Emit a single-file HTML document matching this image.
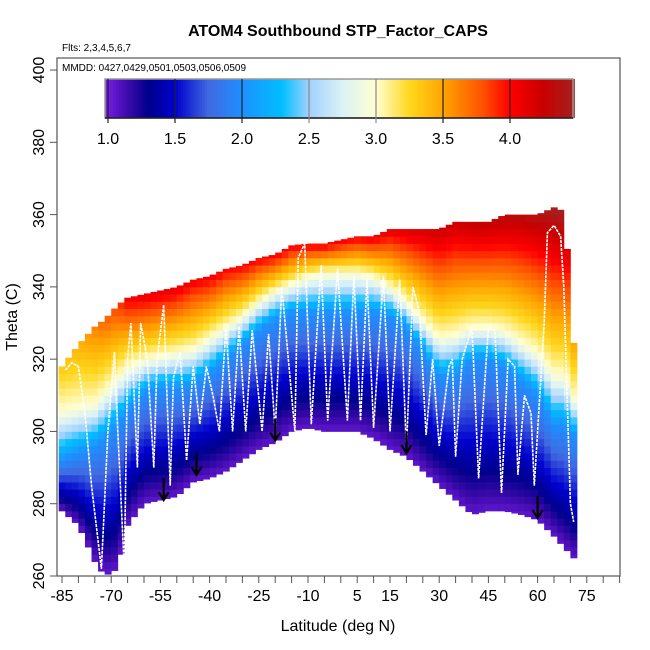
<!DOCTYPE html>
<html><head><meta charset="utf-8">
<style>
body{margin:0;background:#fff;}
svg{display:block;font-family:"Liberation Sans",sans-serif;}
</style></head>
<body>
<svg id="chart" width="650" height="650" viewBox="0 0 650 650">
<text x="338" y="36" text-anchor="middle" font-size="16" font-weight="bold">ATOM4 Southbound STP_Factor_CAPS</text>
<text x="62" y="51" font-size="10">Flts: 2,3,4,5,6,7</text>
<g id="heat"></g>
<g id="profiles"></g>
<g id="arrows"></g>
<rect x="57" y="58" width="563" height="518" fill="none" stroke="#555" stroke-width="1.2"/>
<text x="62" y="71" font-size="10">MMDD: 0427,0429,0501,0503,0506,0509</text>
<g id="cbar"></g>
<g id="axes"></g>
<text x="338" y="631" text-anchor="middle" font-size="16">Latitude (deg N)</text>
<text transform="translate(17,317) rotate(-90)" text-anchor="middle" font-size="16">Theta (C)</text>
</svg>
<script>
// ---- data ----
const lats =   [-86,-85,-80,-75,-72,-68,-65,-60,-55,-50,-45,-40,-35,-30,-25,-20,-15,-10,-5,0,5,10,15,20,25,30,35,40,45,50,55,60,65,68,70,72];
const tops =   [318,318,324,329,331,335,337,338,339,340,342,343,345,346,348,349,351.5,352,352,353,354,354,356,356,356,356,358,358,358,360,360,360,362,361,340,309];
const bottoms= [278,278,274,264,260,262,274,280,281,282,286,287,289,292,295,297,300,301,300,300,300,298,295,293,289,285,281,277,278,278,277,275.5,271,268,266,264];
const t2s =    [292,292,294,296,298,302,306,311,312,312,313,316,320,324,328,331,333,333,333,333,333,333,332,329,322,315,316,320,320,318,314,310,302,302,300,298];
const t3s =    [306,306,307,308,311,315,318,320,321,322,323,326,329,332,336,339,341,343,344,344,344,343,340,336,331,326,327,329,329,328,325,322,316,316,312,307];
const topVals =[3.3,3.3,3.4,3.6,3.7,3.8,4.0,4.05,4.05,4.05,4.0,4.0,3.95,3.95,3.95,3.95,3.95,3.95,3.95,3.95,3.95,4.0,4.05,4.1,4.15,4.2,4.2,4.25,4.25,4.3,4.3,4.35,4.45,4.45,3.8,3.1];
const cbarTicks = [1.0,1.5,2.0,2.5,3.0,3.5,4.0];
const yTicks = [260,280,300,320,340,360,380,400];
const xTickLabels = [-85,-70,-55,-40,-25,-10,5,15,30,45,60,75];
const profLat = [-84,-82,-80,-78,-76,-73,-71,-69,-68,-66,-65,-64,-62,-61,-59,-57,-56,-54,-52,-51,-49,-47,-45,-43,-41,-39,-37,-35,-33,-31,-29,-27,-24,-22,-20,-18,-14,-13,-11,-9,-6,-4,-1,2,4,6,8,10,13,15,18,20,22,24,26,28,30,33,34,35,37,40,42,45,47,49,51,53,54,56,58,59,62,63,65,67,68,70,71];
const profTh  = [317,319,318,305,285,262,300,322,300,262,320,330,290,330,320,290,320,335,285,315,322,292,318,302,318,310,300,329,300,329,300,328,300,327,300,340,300,348,352,302,346,303,345,303,343,303,342,301,343,300,342,295,340,333,299,320,296,318,320,293,320,329,287,329,328,283,320,318,288,310,305,285,330,355,357,354,340,280,275];
const arrowLat = [-54,-44,-20,20,60];
const arrowTip = [281,288,297.5,294,276];
// ---- scales ----
const X = v => 62 + (v + 85) * 3.28;
const Y = v => 576 - (v - 260) * 3.614;
const CB = v => 108 + (v - 1) * 134;
const NS = "http://www.w3.org/2000/svg";
const stops = [[0.98,[122,31,232]],[1.15,[60,10,170]],[1.3,[0,0,140]],[1.5,[0,0,205]],[1.75,[65,105,225]],[2.0,[30,144,255]],[2.3,[0,191,255]],[2.5,[160,210,255]],[2.75,[220,242,245]],[3.0,[255,255,210]],[3.25,[255,215,30]],[3.5,[255,165,0]],[3.8,[255,80,0]],[4.0,[255,0,0]],[4.25,[200,0,0]],[4.47,[165,32,32]]];
function col(v){
  v=Math.max(0.98,Math.min(4.47,v));
  for(let i=1;i<stops.length;i++){if(v<=stops[i][0]){const a=stops[i-1],b=stops[i],t=(v-a[0])/(b[0]-a[0]);
    return "rgb("+a[1].map((c,k)=>Math.round(c+(b[1][k]-c)*t)).join(",")+")";}}
  return "rgb(165,32,32)";
}
function el(tag,attrs,parent){const e=document.createElementNS(NS,tag);for(const k in attrs)e.setAttribute(k,attrs[k]);parent.appendChild(e);return e;}
function lerpArr(arr,lat){for(let i=1;i<lats.length;i++){if(lat<=lats[i]){const t=(lat-lats[i-1])/(lats[i]-lats[i-1]);return arr[i-1]+(arr[i]-arr[i-1])*t;}}return arr[arr.length-1];}
// heatmap
const heat=document.getElementById('heat');
for(let lat=lats[0];lat<lats[lats.length-1];lat+=2){
  const c=lat+1, top=lerpArr(tops,c), bot=lerpArr(bottoms,c), t2=lerpArr(t2s,c), t3=lerpArr(t3s,c), tv=lerpArr(topVals,c);
  for(let th=Math.floor(bot/2)*2; th<top; th+=2){
    const lo=Math.max(th,bot), hi=Math.min(th+2,top), m=(lo+hi)/2;
    let v;
    if(m<t2) v=1.05+(m-bot)/Math.max(1,t2-bot)*0.95;
    else if(m<t3) v=2+(m-t2)/(t3-t2);
    else v=3+(m-t3)/Math.max(2,top-1-t3)*(tv-3);
    const r=el('rect',{x:X(lat).toFixed(2),y:Y(hi).toFixed(2),width:(X(lat+2)-X(lat)+0.4).toFixed(2),height:(Y(lo)-Y(hi)+0.4).toFixed(2),fill:col(v)},heat);
    
    
  }
}
// profiles
const prof=document.getElementById('profiles');
const pl=el('polyline',{points:profLat.map((l,i)=>X(l).toFixed(1)+","+Y(profTh[i]).toFixed(1)).join(" "),fill:"none",stroke:"#fff","stroke-width":1.6,"stroke-dasharray":"3 1"},prof);


// arrows
const ar=document.getElementById('arrows');
arrowLat.forEach((l,i)=>{
  const x=X(l),y=Y(arrowTip[i]);
  const g=el('g',{},ar);
  
  
  el('line',{x1:x,y1:y-22,x2:x,y2:y,stroke:"#000","stroke-width":2.2},g);
  el('polyline',{points:(x-5)+","+(y-8)+" "+x+","+y+" "+(x+5)+","+(y-8),fill:"none",stroke:"#000","stroke-width":2.2},g);
});
// colorbar
const cb=document.getElementById('cbar');
for(let v=0.98;v<4.47;v+=0.02){
  const r=el('rect',{x:CB(v).toFixed(2),y:79,width:3.2,height:39,fill:col(v+0.01)},cb);
  
  
}
const cbf=el('rect',{x:105,y:79,width:468,height:39,fill:"none",stroke:"#999","stroke-width":1.5},cb);


el('line',{x1:105,y1:118,x2:573,y2:118,stroke:"#000","stroke-width":1.2},cb);
cbarTicks.forEach(v=>{
  const x=CB(v);
  el('line',{x1:x,y1:79,x2:x,y2:123,stroke:(v===2.5||v===3.0)?"#888":"#222","stroke-width":1.2},cb);
  const t=el('text',{x:x,y:144,"text-anchor":"middle","font-size":16},cb);
  t.textContent=v.toFixed(1);
  
  
});
// axes
const ax=document.getElementById('axes');
yTicks.forEach(v=>{
  const y=Y(v);
  el('line',{x1:50,y1:y,x2:57,y2:y,stroke:"#555"},ax);
  const t=el('text',{transform:"translate(44,"+y+") rotate(-90)","text-anchor":"middle","font-size":16},ax);
  t.textContent=v;
  
  
});
for(let v=-85;v<=85;v+=5){
  el('line',{x1:X(v),y1:576,x2:X(v),y2:583,stroke:"#555"},ax);
}
xTickLabels.forEach(v=>{
  const t=el('text',{x:X(v),y:601,"text-anchor":"middle","font-size":16},ax);
  t.textContent=v;
  
  
});
</script>
</body></html>
